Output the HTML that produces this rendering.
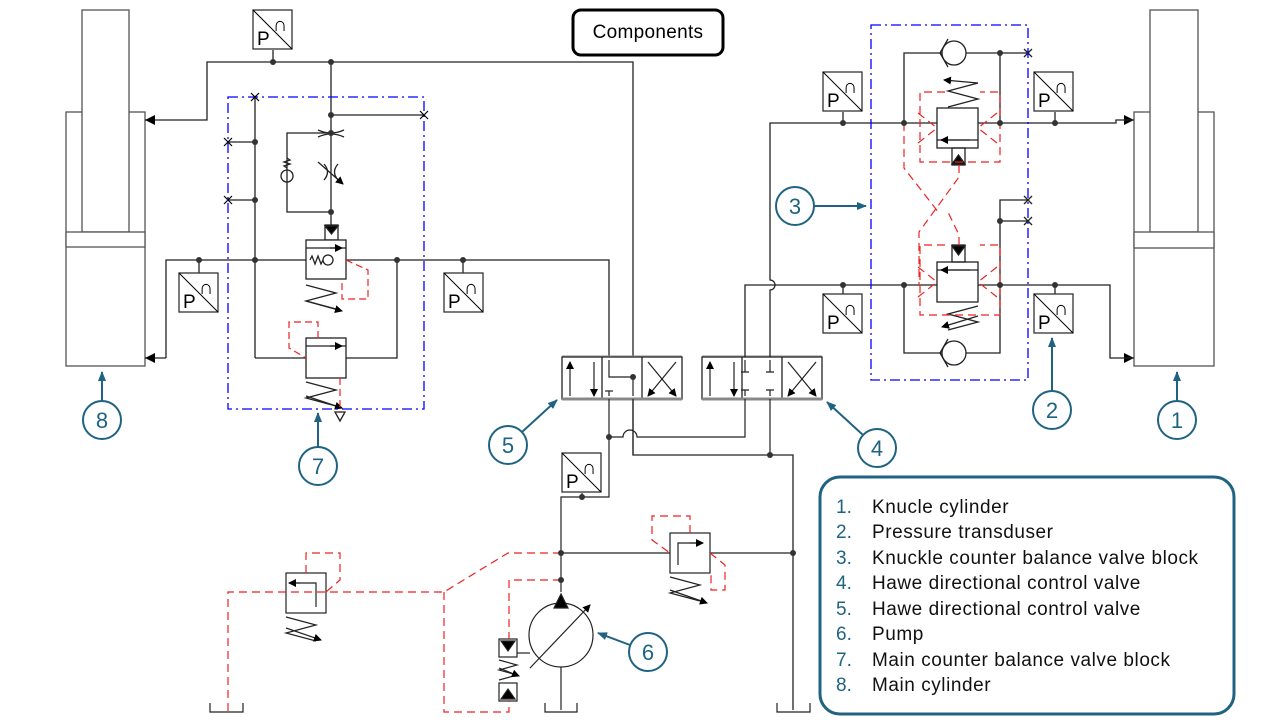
<!DOCTYPE html>
<html><head><meta charset="utf-8"><style>
html,body{margin:0;padding:0;background:#fff}
svg{display:block;font-family:"Liberation Sans",sans-serif}
</style></head><body>
<svg width="1280" height="720" viewBox="0 0 1280 720" xmlns="http://www.w3.org/2000/svg">
<defs>
<marker id="ah" markerWidth="8" markerHeight="8" refX="7" refY="4" orient="auto" markerUnits="userSpaceOnUse"><path d="M0,0 L8,4 L0,8 z" fill="#000"/></marker>
<marker id="bh" markerWidth="10" markerHeight="10" refX="9" refY="5" orient="auto" markerUnits="userSpaceOnUse"><path d="M0,1 L10,5 L0,9 z" fill="#1f6382"/></marker>
<g id="ps"><rect x="0" y="0" width="39" height="39" fill="#fff" stroke="#333" stroke-width="1.3"/><line x1="0" y1="0" x2="39" y2="39" stroke="#000"/><text x="4" y="35" font-size="19">P</text><text x="20" y="21" font-size="20">∩</text></g>
</defs>
<g fill="none" stroke="#222" stroke-width="1.3">
<rect x="66" y="112" width="79" height="254" stroke="#555"/>
<rect x="82" y="10" width="47" height="222" stroke="#555" fill="#fff"/>
<rect x="66" y="232" width="79" height="15" stroke="#555" fill="#fff"/>
<rect x="1134" y="112" width="80" height="254" stroke="#555"/>
<rect x="1150" y="10" width="48" height="222" stroke="#555" fill="#fff"/>
<rect x="1134" y="232" width="80" height="16" stroke="#555" fill="#fff"/>
<polyline points="145,120 207,120 207,62 633,62 633,455 793,455 793,710"/>
<line x1="273" y1="50" x2="273" y2="62"/>
<line x1="331" y1="62" x2="331" y2="225"/>
<line x1="331" y1="115" x2="424" y2="115"/>
<line x1="255" y1="97" x2="255" y2="358"/>
<line x1="228" y1="142" x2="255" y2="142"/><line x1="228" y1="200" x2="255" y2="200"/>
<polyline points="331,133 287,133 287,212 331,212"/>
<circle cx="287" cy="176" r="6"/>
<path d="M287,168 l-3,-2 l6,-2 l-6,-2 l6,-2 l-3,-2"/>
<path d="M318,130 q13,6 26,0 M318,137 q13,-6 26,0"/>
<path d="M324,164 q7,8 0,16 M338,164 q-7,8 0,16"/>
<line x1="318" y1="162" x2="343" y2="184" marker-end="url(#ah)"/>
<rect x="325" y="225" width="13" height="15"/>
<path d="M325,226 h13 l-6.5,8 z" fill="#000"/>
<polyline points="166,358 166,260 609,260 609,377 633,377" />
<line x1="145" y1="358" x2="166" y2="358"/>
<line x1="199" y1="260" x2="199" y2="273"/><line x1="463" y1="260" x2="463" y2="273"/>
<rect x="306" y="240" width="40" height="39" fill="#fff"/>
<line x1="306" y1="248" x2="346" y2="248"/><line x1="330" y1="248" x2="342" y2="248" marker-end="url(#ah)"/>
<circle cx="328" cy="260" r="5"/><path d="M310,260 l2,-4 l3,8 l3,-8 l3,8 l2,-4"/>
<path d="M306,285 l30,8 l-30,8 l30,8" /><line x1="306" y1="301" x2="342" y2="311" marker-end="url(#ah)"/>
<polyline points="397,260 397,358 346,358"/>
<line x1="255" y1="358" x2="306" y2="358"/>
<rect x="306" y="338" width="40" height="40" fill="#fff"/>
<line x1="306" y1="346" x2="346" y2="346"/><line x1="330" y1="346" x2="342" y2="346" marker-end="url(#ah)"/>
<path d="M306,382 l30,8 l-30,8 l30,8" /><line x1="306" y1="396" x2="342" y2="408" marker-end="url(#ah)"/>
<path d="M335,412 l5,9 l5,-9 z"/>
</g>
<g fill="#000">
<path d="M145,120 l10,-5 v10 z"/><path d="M145,358 l10,-5 v10 z"/>
<path d="M1134,120 l-10,-5 v10 z"/><path d="M1134,358 l-10,-5 v10 z"/>
</g>
<g fill="none" stroke="#e22" stroke-width="1.2" stroke-dasharray="7,4">
<polyline points="346,260 368,270 368,299 342,299 342,279"/>
<polyline points="318,338 318,322 289,322 289,348 306,358"/>
<line x1="340" y1="378" x2="340" y2="412"/>
</g>
<rect x="228" y="97" width="196" height="312" fill="none" stroke="#00f" stroke-width="1.3" stroke-dasharray="10,4,2,4"/>
<g fill="none" stroke="#000" stroke-width="1.2">
<path d="M251,93 l8,8 M259,93 l-8,8 M224,138 l8,8 M232,138 l-8,8 M224,196 l8,8 M232,196 l-8,8 M420,111 l8,8 M428,111 l-8,8"/>
</g>
<use href="#ps" x="253" y="10"/>
<use href="#ps" x="179" y="273"/>
<use href="#ps" x="444" y="273"/>
<g fill="#fff" stroke="#222" stroke-width="1.3">
<rect x="562" y="357" width="120" height="42"/><line x1="602" y1="357" x2="602" y2="399"/><line x1="642" y1="357" x2="642" y2="399"/>
<rect x="702" y="357" width="120" height="42"/><line x1="742" y1="357" x2="742" y2="399"/><line x1="782" y1="357" x2="782" y2="399"/>
</g>
<g stroke="#888" stroke-width="3"><line x1="562" y1="399" x2="682" y2="399"/><line x1="702" y1="399" x2="822" y2="399"/><line x1="562" y1="356" x2="682" y2="356" stroke-width="1"/><line x1="702" y1="356" x2="822" y2="356" stroke-width="1"/></g>
<g fill="none" stroke="#222" stroke-width="1.2">
<line x1="570" y1="396" x2="570" y2="362" marker-end="url(#ah)"/><line x1="594" y1="362" x2="594" y2="396" marker-end="url(#ah)"/>
<line x1="648" y1="362" x2="676" y2="396" marker-end="url(#ah)"/><line x1="676" y1="362" x2="648" y2="396" marker-end="url(#ah)"/>
<line x1="710" y1="396" x2="710" y2="362" marker-end="url(#ah)"/><line x1="734" y1="362" x2="734" y2="396" marker-end="url(#ah)"/>
<line x1="788" y1="362" x2="816" y2="396" marker-end="url(#ah)"/><line x1="816" y1="362" x2="788" y2="396" marker-end="url(#ah)"/>
<polyline points="609,360 609,377 633,377 633,396"/><line x1="609" y1="391" x2="609" y2="396"/><line x1="605" y1="391" x2="613" y2="391"/>
<path d="M745,360 v12 M741,372 h8 M770,360 v12 M766,372 h8 M745,396 v-6 M741,390 h8 M770,396 v-6 M766,390 h8"/>
<polyline points="609,399 609,497 561,497 561,592"/>
<line x1="582" y1="493" x2="582" y2="497"/>
<path d="M609,437 H623 a7,7 0 0 1 14,0 H745 V399"/>
<line x1="770" y1="399" x2="770" y2="455"/>
<line x1="633" y1="399" x2="633" y2="455"/>
<line x1="561" y1="553" x2="793" y2="553"/>
<circle cx="561" cy="635" r="32" fill="#fff"/>
<path d="M561,594 l-7,14 h14 z" fill="#000"/>
<line x1="530" y1="668" x2="590" y2="605" marker-end="url(#ah)"/>
<line x1="561" y1="667" x2="561" y2="710"/>
<line x1="530" y1="653" x2="517" y2="653"/>
<rect x="499" y="639" width="18" height="18"/><path d="M501,641 h14 l-7,10 z" fill="#000"/>
<path d="M499,660 l18,5 l-18,5 l18,5 l-18,5" /><line x1="499" y1="668" x2="519" y2="676" marker-end="url(#ah)"/>
<rect x="499" y="683" width="18" height="18"/><path d="M501,699 h14 l-7,-10 z" fill="#000"/>
<rect x="670" y="533" width="40" height="40" fill="#fff"/>
<polyline points="678,565 678,543 702,543"/><line x1="690" y1="543" x2="703" y2="543" marker-end="url(#ah)"/>
<path d="M670,577 l30,8 l-30,8 l30,8"/><line x1="670" y1="590" x2="707" y2="603" marker-end="url(#ah)"/>
<rect x="286" y="573" width="40" height="40" fill="#fff"/>
<polyline points="316,607 316,583 291,583"/><line x1="300" y1="583" x2="289" y2="583" marker-end="url(#ah)"/>
<path d="M286,617 l30,8 l-30,8 l30,8"/><line x1="286" y1="628" x2="321" y2="640" marker-end="url(#ah)"/>
<path d="M210,703 v9 h33 v-9 M545,703 v9 h32 v-9 M777,703 v9 h33 v-9"/>
</g>
<g fill="none" stroke="#e22" stroke-width="1.2" stroke-dasharray="8,5">
<polyline points="561,553 508,553 444,592 228,592 228,712"/>
<polyline points="444,592 444,712 509,712 509,701"/>
<polyline points="561,580 509,580 509,639"/>
<polyline points="690,533 690,516 652,516 652,540 670,553"/>
<polyline points="710,553 725,565 725,590 711,590 711,573"/>
<polyline points="306,573 306,553 340,553 340,580 326,592"/>
</g>
<use href="#ps" x="562" y="453"/>
<g fill="none" stroke="#222" stroke-width="1.3">
<path d="M1134,120 H1116 V123 H770 V280 a5,5 0 0 1 0,10 V357"/>
<polyline points="745,357 745,285 1110,285 1110,358 1134,358"/>
<line x1="843" y1="112" x2="843" y2="123"/><line x1="1055" y1="112" x2="1055" y2="123"/>
<line x1="843" y1="285" x2="843" y2="294"/><line x1="1055" y1="285" x2="1055" y2="294"/>
<polyline points="904,123 904,53 1028,53"/><line x1="1000" y1="53" x2="1000" y2="123"/>
<polyline points="904,285 904,353 1000,353 1000,200 1028,200"/><line x1="1000" y1="221" x2="1028" y2="221"/>
<circle cx="954" cy="53" r="12" fill="#fff"/><path d="M948,39 l-8,14 l8,14"/>
<circle cx="954" cy="353" r="12" fill="#fff"/><path d="M948,339 l-8,14 l8,14"/>
<rect x="937" y="108" width="41" height="40" fill="#fff"/><line x1="937" y1="140" x2="978" y2="140"/><line x1="970" y1="140" x2="941" y2="140" marker-end="url(#ah)"/>
<rect x="952" y="148" width="13" height="17"/><path d="M952,164 h13 l-6.5,-9 z" fill="#000"/>
<path d="M978,83 l-30,8 l30,8 l-30,8"/><line x1="978" y1="83" x2="944" y2="80" marker-end="url(#ah)"/>
<rect x="937" y="262" width="41" height="40" fill="#fff"/><line x1="937" y1="270" x2="978" y2="270"/><line x1="970" y1="270" x2="941" y2="270" marker-end="url(#ah)"/>
<rect x="952" y="245" width="13" height="17"/><path d="M952,246 h13 l-6.5,9 z" fill="#000"/>
<path d="M978,306 l-30,8 l30,8 l-30,8"/><line x1="978" y1="316" x2="942" y2="327" marker-end="url(#ah)"/>
<path d="M1024,49 l8,8 M1032,49 l-8,8 M1024,196 l8,8 M1032,196 l-8,8 M1024,217 l8,8 M1032,217 l-8,8"/>
</g>
<g fill="none" stroke="#e22" stroke-width="1.2" stroke-dasharray="8,5">
<path d="M945,92 h-25 v70 h80 v-70 h-20 M918,113 l19,15 M918,143 l19,-15 M997,113 l-19,15 M997,143 l-19,-15"/>
<path d="M904,123 v45 l35,45 M959,165 v12 l-40,55 v53"/>
<path d="M945,245 h-25 v70 h80 v-70 h-20 M918,267 l19,15 M918,297 l19,-15 M997,267 l-19,15 M997,297 l-19,-15"/>
<path d="M959,245 v-10 l-12,-25"/>
</g>
<rect x="871" y="25" width="157" height="355" fill="none" stroke="#00f" stroke-width="1.3" stroke-dasharray="10,4,2,4"/>
<use href="#ps" x="823" y="72"/><use href="#ps" x="1034" y="72"/>
<use href="#ps" x="823" y="294"/><use href="#ps" x="1034" y="294"/>
<g fill="#333">
<circle cx="273" cy="62" r="3"/><circle cx="331" cy="62" r="3"/><circle cx="331" cy="115" r="3"/><circle cx="331" cy="133" r="3"/><circle cx="331" cy="212" r="3"/>
<circle cx="255" cy="142" r="3"/><circle cx="255" cy="200" r="3"/><circle cx="255" cy="260" r="3"/><circle cx="199" cy="260" r="3"/><circle cx="397" cy="260" r="3"/><circle cx="463" cy="260" r="3"/>
<circle cx="633" cy="377" r="3"/><circle cx="609" cy="437" r="3"/><circle cx="770" cy="455" r="3"/><circle cx="582" cy="497" r="3"/><circle cx="561" cy="553" r="3"/><circle cx="561" cy="580" r="3"/><circle cx="793" cy="553" r="3"/>
<circle cx="843" cy="123" r="3"/><circle cx="904" cy="123" r="3"/><circle cx="1000" cy="123" r="3"/><circle cx="1055" cy="123" r="3"/><circle cx="1000" cy="53" r="3"/>
<circle cx="843" cy="285" r="3"/><circle cx="904" cy="285" r="3"/><circle cx="1000" cy="285" r="3"/><circle cx="1055" cy="285" r="3"/><circle cx="1000" cy="221" r="3"/>
</g>
<g fill="#fff" stroke="#1f6382" stroke-width="2">
<line x1="102" y1="401" x2="102" y2="372" marker-end="url(#bh)"/><circle cx="102" cy="420" r="19"/>
<line x1="318" y1="447" x2="318" y2="413" marker-end="url(#bh)"/><circle cx="318" cy="466" r="19"/>
<line x1="522" y1="432" x2="557" y2="400" marker-end="url(#bh)"/><circle cx="508" cy="445" r="19"/>
<line x1="630" y1="645" x2="598" y2="633" marker-end="url(#bh)"/><circle cx="648" cy="652" r="19"/>
<line x1="863" y1="435" x2="827" y2="402" marker-end="url(#bh)"/><circle cx="877" cy="448" r="19"/>
<line x1="1052" y1="391" x2="1052" y2="338" marker-end="url(#bh)"/><circle cx="1052" cy="410" r="19"/>
<line x1="1177" y1="401" x2="1177" y2="372" marker-end="url(#bh)"/><circle cx="1177" cy="420" r="19"/>
<line x1="814" y1="206" x2="866" y2="206" marker-end="url(#bh)"/><circle cx="795" cy="206" r="19"/>
</g>
<g fill="#1f6382" font-size="22" text-anchor="middle">
<text x="102" y="428">8</text><text x="318" y="474">7</text><text x="508" y="453">5</text><text x="648" y="660">6</text><text x="877" y="456">4</text><text x="1052" y="418">2</text><text x="1177" y="428">1</text><text x="795" y="214">3</text>
</g>
<rect x="573" y="10" width="150" height="45" rx="8" fill="#fff" stroke="#000" stroke-width="3"/>
<text x="648" y="38" font-size="19" text-anchor="middle" letter-spacing="0.3">Components</text>
<rect x="820" y="477" width="414" height="237" rx="20" fill="#fff" stroke="#1f6382" stroke-width="3"/>
<g font-size="19">
<g fill="#1f6382"><text x="836" y="513">1.</text><text x="836" y="538">2.</text><text x="836" y="564">3.</text><text x="836" y="589">4.</text><text x="836" y="615">5.</text><text x="836" y="640">6.</text><text x="836" y="666">7.</text><text x="836" y="691">8.</text></g>
<g fill="#111" letter-spacing="0.55"><text x="872" y="513">Knucle cylinder</text><text x="872" y="538">Pressure transduser</text><text x="872" y="564">Knuckle counter balance valve block</text><text x="872" y="589">Hawe directional control valve</text><text x="872" y="615">Hawe directional control valve</text><text x="872" y="640">Pump</text><text x="872" y="666">Main counter balance valve block</text><text x="872" y="691">Main cylinder</text></g>
</g>
</svg>
</body></html>
